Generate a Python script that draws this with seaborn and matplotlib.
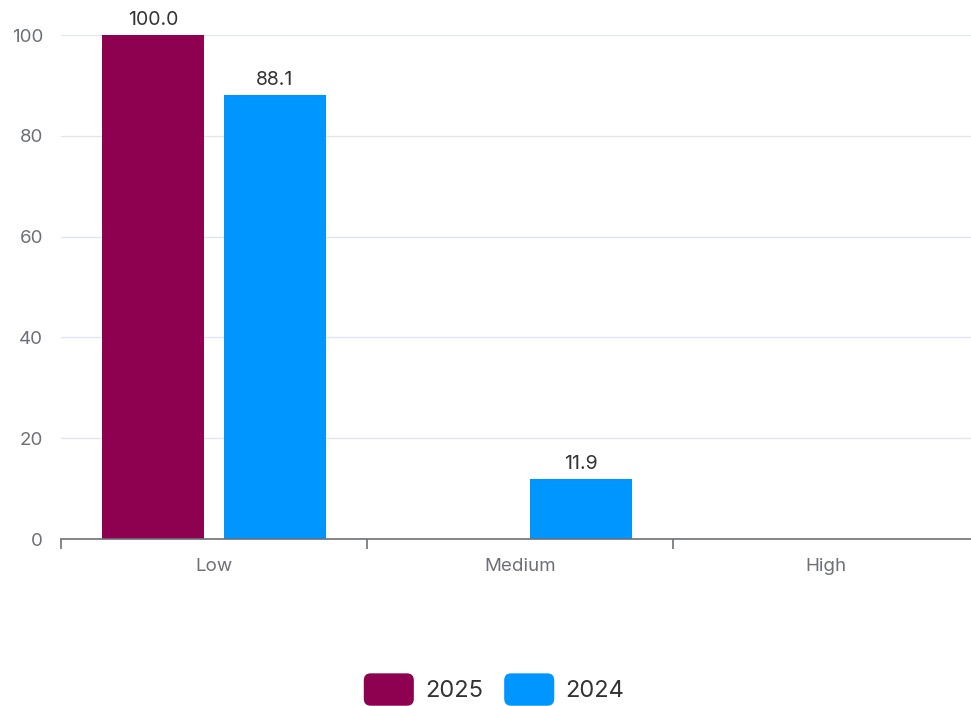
import matplotlib
matplotlib.use("Agg")
import matplotlib.pyplot as plt
import seaborn as sns
import pandas as pd
from matplotlib.patches import FancyBboxPatch, Patch
from matplotlib.legend_handler import HandlerPatch

# Data
categories = ["Low", "Medium", "High"]
series_names = ["2025", "2024"]
values_2025 = [100.0, 0.0, 0.0]
values_2024 = [88.1, 11.9, 0.0]
colors = ["#8E0050", "#0096FF"]
y_ticks = [0, 20, 40, 60, 80, 100]

df = pd.DataFrame({
    "category": categories * 2,
    "series": [series_names[0]] * 3 + [series_names[1]] * 3,
    "value": values_2025 + values_2024,
})

sns.set_theme(style="white")
plt.rcParams["font.family"] = ["Inter", "DejaVu Sans"]

fig = plt.figure(figsize=(9.71, 7.06), dpi=100)
ax = fig.add_axes([61 / 971, 1 - 539 / 706, 1 - 61 / 971, (539 - 35) / 706])

sns.barplot(
    data=df, x="category", y="value", hue="series",
    order=categories, hue_order=series_names,
    palette=colors, width=0.797, gap=0.167,
    saturation=1, legend=False, ax=ax, errorbar=None, linewidth=0,
)

# Value labels on non-zero bars
series_vals = [values_2025, values_2024]
for container, vals in zip(ax.containers, series_vals):
    labels = [f"{v:.1f}" if v > 0 else "" for v in vals]
    ax.bar_label(container, labels=labels, padding=4, fontsize=14, color="#333333")

ax.set_ylim(0, 100)
ax.set_xlim(-0.5, 2.474)
ax.set_yticks(y_ticks)
ax.set_yticklabels([str(t) for t in y_ticks])
ax.tick_params(axis="y", left=False, length=0, pad=13, labelsize=13.5, labelcolor="#6E7079")

# Category boundary ticks, labels centered on categories
ax.set_xticks([-0.5, 0.5, 1.5])
ax.set_xticklabels([])
ax.set_xticks([0, 1, 2], minor=True)
ax.set_xticklabels(categories, minor=True)
ax.tick_params(axis="x", which="major", bottom=True, length=7, width=1.2,
               color="#6E7079", direction="out")
ax.tick_params(axis="x", which="minor", bottom=True, length=0, pad=13.5,
               labelsize=13.5, labelcolor="#6E7079")

ax.set_xlabel("")
ax.set_ylabel("")
ax.grid(axis="y", color="#E0E6F1", linewidth=1)
ax.grid(axis="x", visible=False)
ax.set_axisbelow(True)
for side in ["top", "right", "left"]:
    ax.spines[side].set_visible(False)
ax.spines["bottom"].set_color("#6E7079")
ax.spines["bottom"].set_linewidth(1.2)
ax.spines["bottom"].set_zorder(5)


class RoundedHandler(HandlerPatch):
    def create_artists(self, legend, orig_handle, xdescent, ydescent,
                       width, height, fontsize, trans):
        p = FancyBboxPatch((-xdescent, -ydescent - 3), width, height + 6,
                           boxstyle="round,pad=0,rounding_size=5",
                           facecolor=orig_handle.get_facecolor(),
                           edgecolor="none", transform=trans)
        return [p]


handles = [Patch(facecolor=c, label=n) for c, n in zip(colors, series_names)]
fig.legend(
    handles=handles, loc="center", bbox_to_anchor=(494 / 971, 1 - 690 / 706),
    ncol=2, frameon=False, fontsize=17, handlelength=2.12, handleheight=1.19,
    handletextpad=0.47, columnspacing=0.9,
    handler_map={Patch: RoundedHandler()}, labelcolor="#333333",
)

fig.savefig("out.png", dpi=100)
